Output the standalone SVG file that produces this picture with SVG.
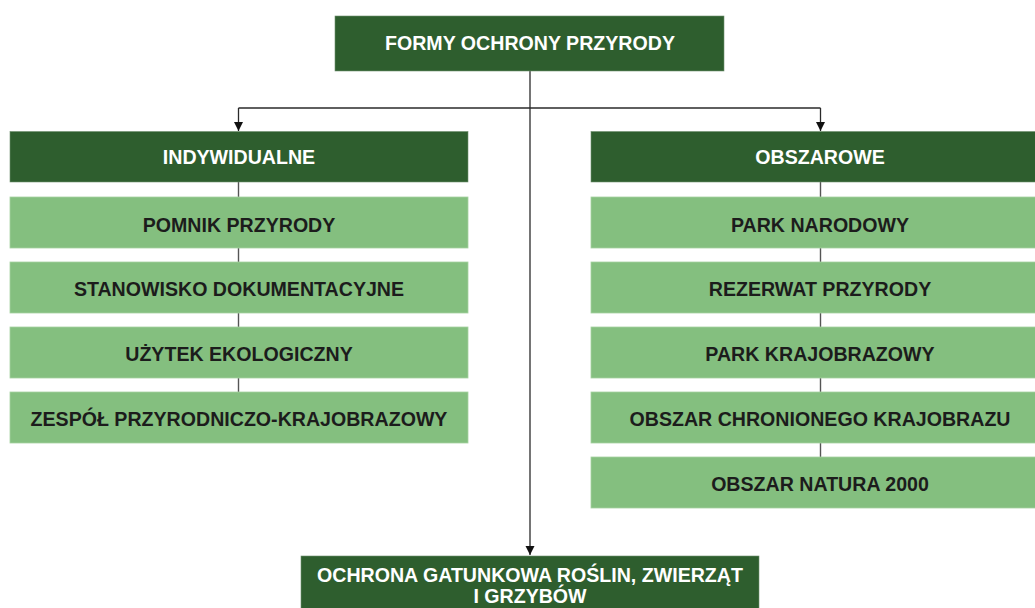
<svg xmlns="http://www.w3.org/2000/svg" width="1035" height="608" viewBox="0 0 1035 608">
<style>
.dark{fill:#2e5e2e;stroke:#6f8f6f;stroke-width:0.6}
.light{fill:#84bf7f;stroke:#a6d3a1;stroke-width:0.8}
.tw{font-family:"Liberation Sans",Arial,sans-serif;font-weight:bold;font-size:19.6px;fill:#ffffff;text-anchor:middle}
.tb{font-family:"Liberation Sans",Arial,sans-serif;font-weight:bold;font-size:19.6px;fill:#1c1c1c;text-anchor:middle}
.main{fill:none;stroke:#2a2a2a;stroke-width:1.3}
.col{fill:none;stroke:#555555;stroke-width:1.4}
</style>
<defs>
<marker id="arr" markerWidth="10" markerHeight="10" refX="9" refY="5" orient="auto" markerUnits="userSpaceOnUse">
<path d="M0,0.5 L9,5 L0,9.5 Z" fill="#111111"/>
</marker>
</defs>
<rect width="1035" height="608" fill="#ffffff"/>
<g id="connectors">
<path class="col" d="M238.5,182 V392"/>
<path class="col" d="M820.5,182 V457"/>
<path class="main" d="M530,71 V555" marker-end="url(#arr)"/>
<path class="main" d="M238.5,108 H820.5"/>
<path class="main" d="M238.5,108 V131" marker-end="url(#arr)"/>
<path class="main" d="M820.5,108 V131" marker-end="url(#arr)"/>
</g>
<g id="formy"><rect class="dark" x="335" y="16" width="389" height="55"/><text class="tw" x="530" y="49.5">FORMY OCHRONY PRZYRODY</text></g>
<g id="indywidualne"><rect class="dark" x="10" y="131.5" width="458" height="50.5"/><text class="tw" x="239" y="163.5">INDYWIDUALNE</text></g>
<g id="pomnik"><rect class="light" x="10" y="197" width="458" height="51"/><text class="tb" x="239" y="232">POMNIK PRZYRODY</text></g>
<g id="stanowisko"><rect class="light" x="10" y="262" width="458" height="51"/><text class="tb" x="239" y="296">STANOWISKO DOKUMENTACYJNE</text></g>
<g id="uzytek"><rect class="light" x="10" y="327" width="458" height="51"/><text class="tb" x="239" y="361">UŻYTEK EKOLOGICZNY</text></g>
<g id="zespol"><rect class="light" x="10" y="392" width="458" height="51"/><text class="tb" x="239" y="426">ZESPÓŁ PRZYRODNICZO-KRAJOBRAZOWY</text></g>
<g id="obszarowe"><rect class="dark" x="591" y="131.5" width="458" height="50.5"/><text class="tw" x="820" y="163.5">OBSZAROWE</text></g>
<g id="park-narodowy"><rect class="light" x="591" y="197" width="458" height="51"/><text class="tb" x="820" y="232">PARK NARODOWY</text></g>
<g id="rezerwat"><rect class="light" x="591" y="262" width="458" height="51"/><text class="tb" x="820" y="296">REZERWAT PRZYRODY</text></g>
<g id="park-krajobrazowy"><rect class="light" x="591" y="327" width="458" height="51"/><text class="tb" x="820" y="361">PARK KRAJOBRAZOWY</text></g>
<g id="obszar-chronionego"><rect class="light" x="591" y="392" width="458" height="51"/><text class="tb" x="820" y="426">OBSZAR CHRONIONEGO KRAJOBRAZU</text></g>
<g id="natura"><rect class="light" x="591" y="457" width="458" height="51"/><text class="tb" x="820" y="491">OBSZAR NATURA 2000</text></g>
<g id="ochrona-gatunkowa"><rect class="dark" x="301" y="556" width="458" height="60"/><text class="tw" x="530" y="582">OCHRONA GATUNKOWA ROŚLIN, ZWIERZĄT</text><text class="tw" x="530" y="603">I GRZYBÓW</text></g>
</svg>
